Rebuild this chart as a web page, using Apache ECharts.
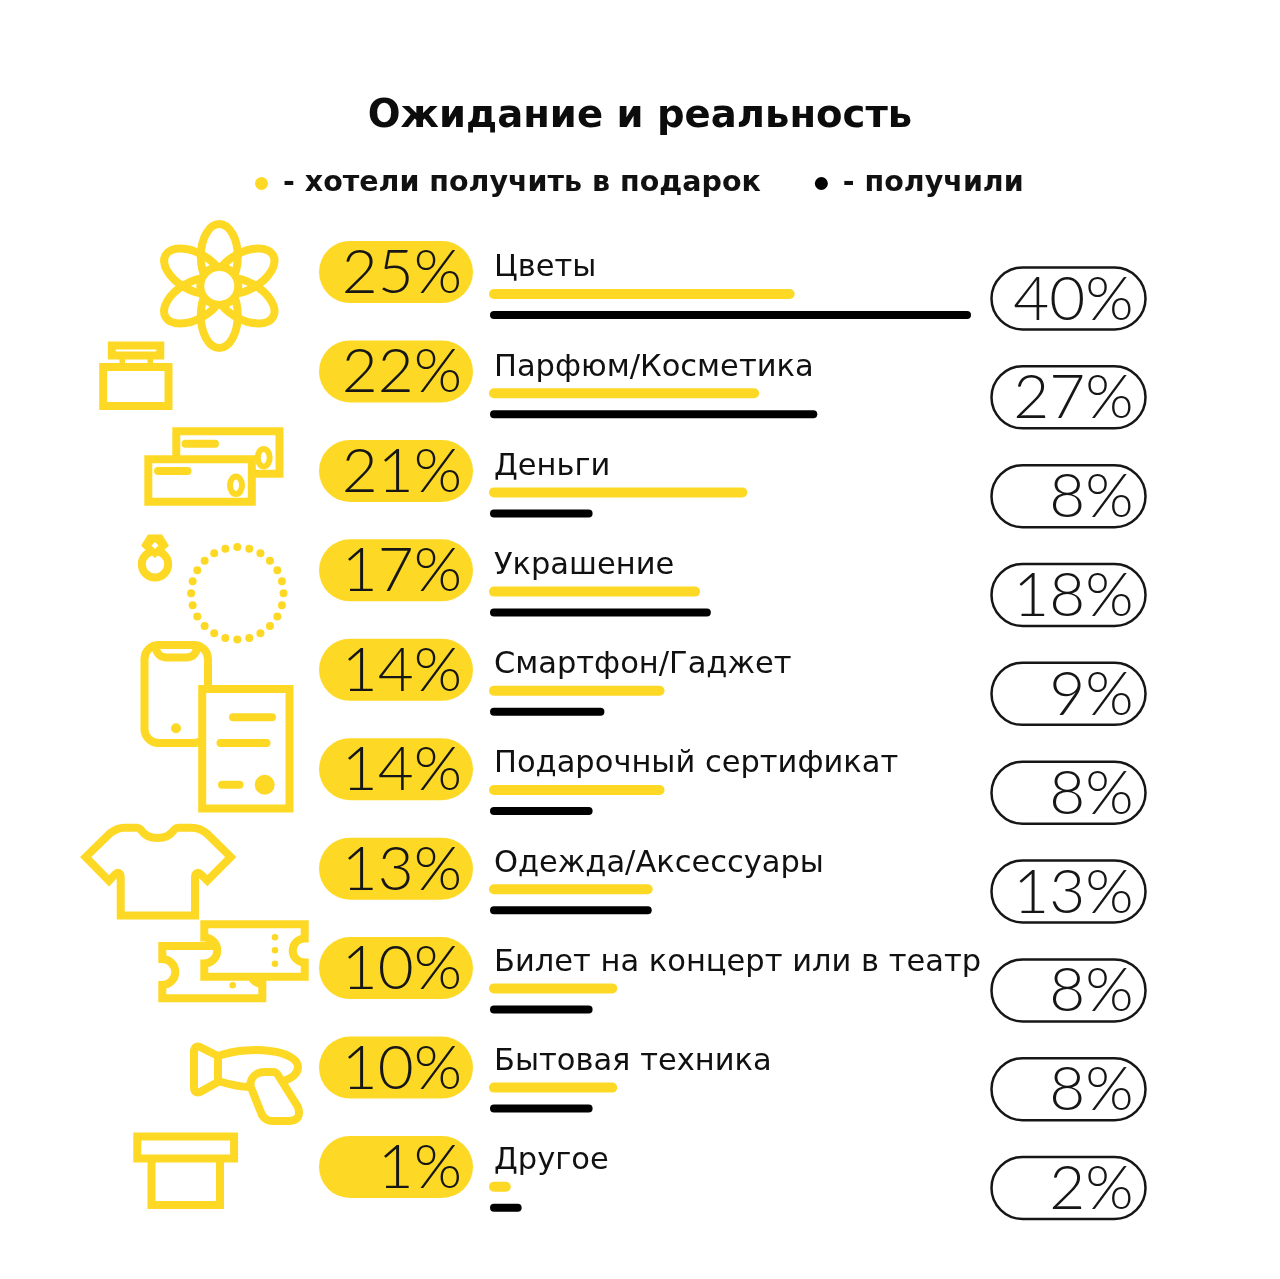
<!DOCTYPE html>
<html><head><meta charset="utf-8">
<style>html,body{margin:0;padding:0;background:#fff}#c{width:1280px;height:1279px}</style>
<script src="https://cdn.jsdelivr.net/npm/echarts@6/dist/echarts.min.js"></script>
</head><body><div id="c"></div>
<script>
const categories = ['Цветы','Парфюм/Косметика','Деньги','Украшение','Смартфон/Гаджет','Подарочный сертификат','Одежда/Аксессуары','Билет на концерт или в театр','Бытовая техника','Другое'];
const wanted = [25,22,21,17,14,14,13,10,10,1];
const received = [40,27,8,18,9,8,13,8,8,2];
const titleText = 'Ожидание и реальность';
const wantedName = '- хотели получить в подарок';
const receivedName = '- получили';

const YEL = '#FDD925', INK = '#161616';
const NUM_FONT = 'Lato, Inter, sans-serif';
const TXT_FONT = '"DejaVu Sans", Inter, sans-serif';

function barRenderer(color, lw, dy, pill) {
  return function (params, api) {
    const i = api.value(1), v = api.value(0);
    const a = api.coord([0, i]), b = api.coord([v, i]);
    const py = a[1] + pill.off + i * pill.step;
    return { type: 'group', children: [
      { type: 'rect', shape: { x: pill.x, y: py - pill.h / 2, width: pill.w, height: pill.h, r: pill.h / 2 },
        style: pill.fill ? { fill: YEL } : { fill: '#fff', stroke: INK, lineWidth: 2.5 } },
      { type: 'text', style: { x: pill.x + pill.tx, y: py + 1, text: v + '%', align: 'right', verticalAlign: 'middle',
        fontFamily: NUM_FONT, fontSize: 62, fontWeight: 300, fill: INK } },
      { type: 'line', shape: { x1: a[0], y1: a[1] + dy, x2: b[0], y2: b[1] + dy },
        style: { stroke: color, lineWidth: lw, lineCap: 'round', fill: null } }
    ] };
  };
}

function iconRenderer() {
  const LW = 8;
  const S = { stroke: YEL, lineWidth: LW, fill: null, lineJoin: 'miter' };
  const W = { stroke: YEL, lineWidth: LW, fill: '#fff', lineJoin: 'miter' };
  const F = { fill: YEL };
  const L = { stroke: YEL, lineWidth: LW, lineCap: 'round', fill: null };
  const kids = [];
  const add = (type, shape, style, extra) => kids.push(Object.assign({ type, shape, style }, extra || {}));
  const path = (d, style) => kids.push({ type: 'path', shape: { pathData: d }, style });
  // flower: six petals round a centre
  for (let k = 0; k < 6; k++) add('ellipse', { cx: 0, cy: -29.5, rx: 18.5, ry: 32.5 }, S, { x: 219.3, y: 286, rotation: k * Math.PI / 3 });
  add('circle', { cx: 219.3, cy: 286, r: 19 }, W);
  // perfume
  add('rect', { x: 103.2, y: 367, width: 65.3, height: 39 }, S);
  add('rect', { x: 111.8, y: 345.5, width: 48.5, height: 10 }, S);
  add('rect', { x: 119.5, y: 358, width: 5.5, height: 7 }, F);
  add('rect', { x: 147.5, y: 358, width: 5.5, height: 7 }, F);
  // money
  add('rect', { x: 176.3, y: 431.3, width: 103.2, height: 42.5 }, S);
  add('rect', { x: 148.3, y: 459.3, width: 103.5, height: 42.5 }, W);
  add('line', { x1: 185.5, y1: 443.7, x2: 215, y2: 443.7 }, L);
  add('line', { x1: 158, y1: 471, x2: 187.5, y2: 471 }, L);
  add('ellipse', { cx: 263.7, cy: 457.7, rx: 6, ry: 8.7 }, { stroke: YEL, lineWidth: 6, fill: '#fff' });
  add('ellipse', { cx: 236, cy: 485.3, rx: 6, ry: 8.7 }, { stroke: YEL, lineWidth: 6, fill: '#fff' });
  // ring
  add('circle', { cx: 155, cy: 564.3, r: 13.2 }, W);
  add('polygon', { points: [[148, 534.5], [162, 534.5], [169, 545.7], [155, 558], [141, 545.7]] }, F);
  add('polygon', { points: [[155, 542], [158.5, 545.5], [155, 549], [151.5, 545.5]] }, { fill: '#fff' });
  // necklace
  for (let k = 0; k < 24; k++) {
    const t = k * Math.PI / 12;
    add('circle', { cx: 237.3 + 46.2 * Math.sin(t), cy: 593.3 - 46.2 * Math.cos(t), r: 4 }, F);
  }
  // phone
  add('rect', { x: 144.5, y: 645, width: 63.5, height: 98, r: 14 }, S);
  path('M155.5 646 C156 654 161 657.5 167 657.5 L186 657.5 C192 657.5 197 654 197 646', S);
  add('circle', { cx: 176, cy: 728.3, r: 5 }, F);
  // certificate
  add('rect', { x: 202.2, y: 689, width: 87.3, height: 119.5 }, W);
  add('line', { x1: 233, y1: 717.3, x2: 272, y2: 717.3 }, L);
  add('line', { x1: 220.5, y1: 743, x2: 266.5, y2: 743 }, L);
  add('line', { x1: 222, y1: 784.7, x2: 239.5, y2: 784.7 }, L);
  add('circle', { cx: 264.7, cy: 784.7, r: 10 }, F);
  // t-shirt
  path('M85.7 857 L110 833.3 C115 829.5 119 827.7 124 827.7 L137 827.7 C139 827.7 140 829 141 830 C145 836 151 838 157.5 838 C164 838 170 836 174 830 C175 829 176 827.7 178 827.7 L191.5 827.7 C197 827.7 202 829.5 206.7 833.3 L230.7 857 L207.3 880.7 L201 874.5 C198 871.5 195 873 195 877 L195 915.5 L120.7 915.5 L120.7 877 C120.7 873 118 871.5 115 874.5 L109 880.7 Z', S);
  // back ticket
  path('M162.3 946 L262.3 946 L262.3 960 A12 12 0 0 0 262.3 984 L262.3 998.3 L162.3 998.3 L162.3 985 A13 13 0 0 0 162.3 959 Z', W);
  add('circle', { cx: 232.7, cy: 985.3, r: 3.3 }, F);
  // front ticket
  path('M204.3 924.3 L304.7 924.3 L304.7 938.5 A12 12 0 0 0 304.7 962.5 L304.7 976.7 L204.3 976.7 L204.3 963.5 A13 13 0 0 0 204.3 937.5 Z', W);
  [937.3, 950.3, 963.7].forEach(y => add('circle', { cx: 275, cy: y, r: 3.3 }, F));
  // hair dryer
  path('M218 1056 C235 1050 256 1049 270 1051 C288 1053 298 1060 298 1067 C298 1073 292 1078 284 1081', S);
  path('M218 1081 C228 1084 240 1087 250 1087', S);
  path('M194 1052 Q194 1045 200 1047 L218 1056 L218 1082 L200 1092 Q194 1094 194 1087 Z', { stroke: YEL, lineWidth: LW, fill: null, lineJoin: 'round' });
  path('M252 1090 Q248 1082 254 1076 Q258 1072 265 1072 L273 1072 Q276 1072 278 1075 L298 1107 Q302 1120 290 1121 L272 1121 Q266 1121 262 1115 Z', { stroke: YEL, lineWidth: LW, fill: '#fff', lineJoin: 'round' });
  // box
  add('rect', { x: 151.5, y: 1158, width: 68.5, height: 47 }, S);
  add('rect', { x: 137.3, y: 1136.6, width: 96.8, height: 21.8 }, W);
  return { type: 'group', children: kids };
}

const chart = echarts.init(document.getElementById('c'), null, { renderer: 'canvas' });
chart.setOption({
  animation: false,
  backgroundColor: '#fff',
  title: { text: titleText, left: 'center', top: 92, textStyle: { fontFamily: TXT_FONT, fontSize: 38.6, fontWeight: 700, color: '#0c0c0c' } },
  legend: {
    data: [wantedName, receivedName], left: 250, top: 164, itemWidth: 13, itemHeight: 13, itemGap: 54, icon: 'circle',
    textStyle: { fontFamily: TXT_FONT, fontSize: 28.5, fontWeight: 700, color: '#111', padding: [4, 0, 0, 10] }
  },
  grid: { left: 494, width: 473, top: 254.9, height: 992, containLabel: false },
  xAxis: { type: 'value', min: 0, max: 40, show: false },
  yAxis: {
    type: 'category', inverse: true, data: categories,
    axisLine: { show: false }, axisTick: { show: false }, splitLine: { show: false },
    axisLabel: { inside: true, margin: 0, align: 'left', verticalAlign: 'bottom', lineHeight: 72,
      fontFamily: TXT_FONT, fontSize: 30.5, fontWeight: 400, color: '#111' }
  },
  series: [
    { name: 'icons', type: 'custom', coordinateSystem: 'none', silent: true, data: [[0]], renderItem: iconRenderer, z: 1 },
    { name: wantedName, type: 'custom', silent: true, clip: false, itemStyle: { color: YEL }, encode: { x: 0, y: 1 },
      data: wanted.map((v, i) => [v, i]),
      renderItem: barRenderer(YEL, 10, -10.5, { fill: true, x: 319, w: 154, h: 62, tx: 143, off: -32.5, step: 0.24 }), z: 2 },
    { name: receivedName, type: 'custom', silent: true, clip: false, itemStyle: { color: '#000' }, encode: { x: 0, y: 1 },
      data: received.map((v, i) => [v, i]),
      renderItem: barRenderer('#000', 8, 10.5, { fill: false, x: 991.5, w: 154, h: 62, tx: 142, off: -6, step: -0.36 }), z: 2 }
  ]
});
</script></body></html>
